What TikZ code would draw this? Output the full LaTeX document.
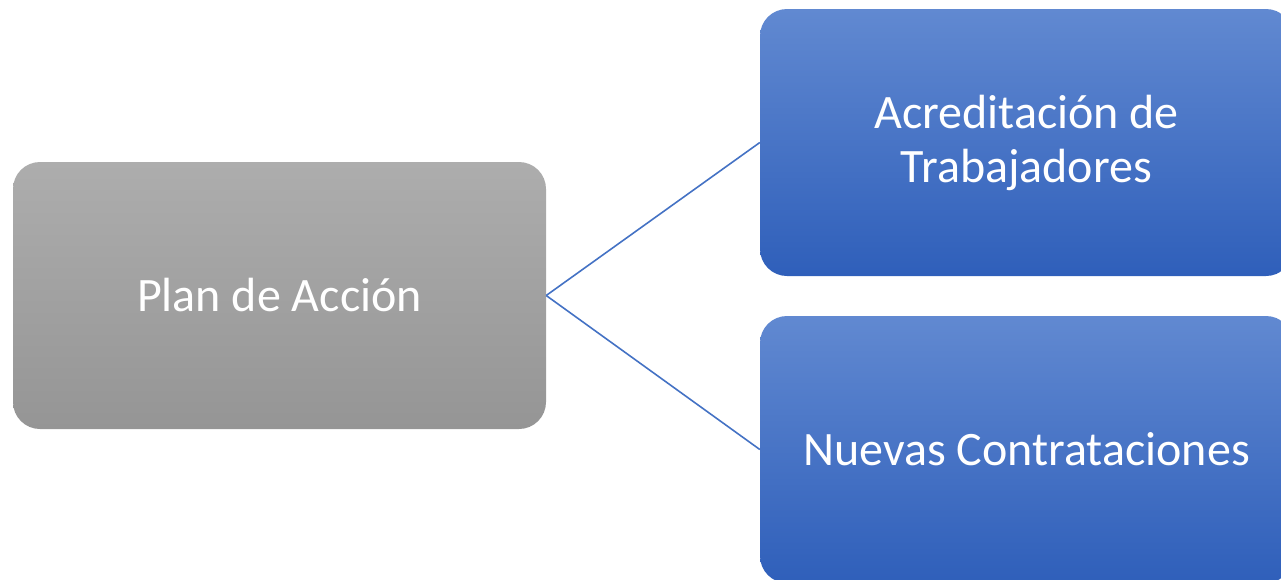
\documentclass[tikz,border=0pt]{standalone}
\usepackage{fontspec}
\setmainfont{Carlito}
\definecolor{grayTop}{HTML}{ADADAD}
\definecolor{grayBot}{HTML}{959595}
\definecolor{blueTop}{HTML}{6189D1}
\definecolor{blueBot}{HTML}{2F5FBA}
\definecolor{lineBlue}{HTML}{4472C4}
\begin{document}
\begin{tikzpicture}[x=1pt,y=-1pt,
  box/.style={rounded corners=27pt, minimum width=533pt, minimum height=267pt,
    inner sep=0pt, text=white, align=center, font=\fontsize{48}{54}\selectfont},
  graybox/.style={box, top color=grayTop, bottom color=grayBot},
  bluebox/.style={box, top color=blueTop, bottom color=blueBot},
  conn/.style={draw=lineBlue, line width=1.6pt}]
\useasboundingbox (0,0) rectangle (1281,579);
\clip (0,0) rectangle (1281,579);
\node[graybox] (plan) at (279.5,295.5) {Plan de Acción};
\node[bluebox] (acred) at (1026.5,142.5) {Acreditación de\\Trabajadores};
\node[bluebox] (nuevas) at (1026.5,449.5) {Nuevas Contrataciones};
\draw[conn] (plan.east) -- (acred.west);
\draw[conn] (plan.east) -- (nuevas.west);
\end{tikzpicture}
\end{document}
